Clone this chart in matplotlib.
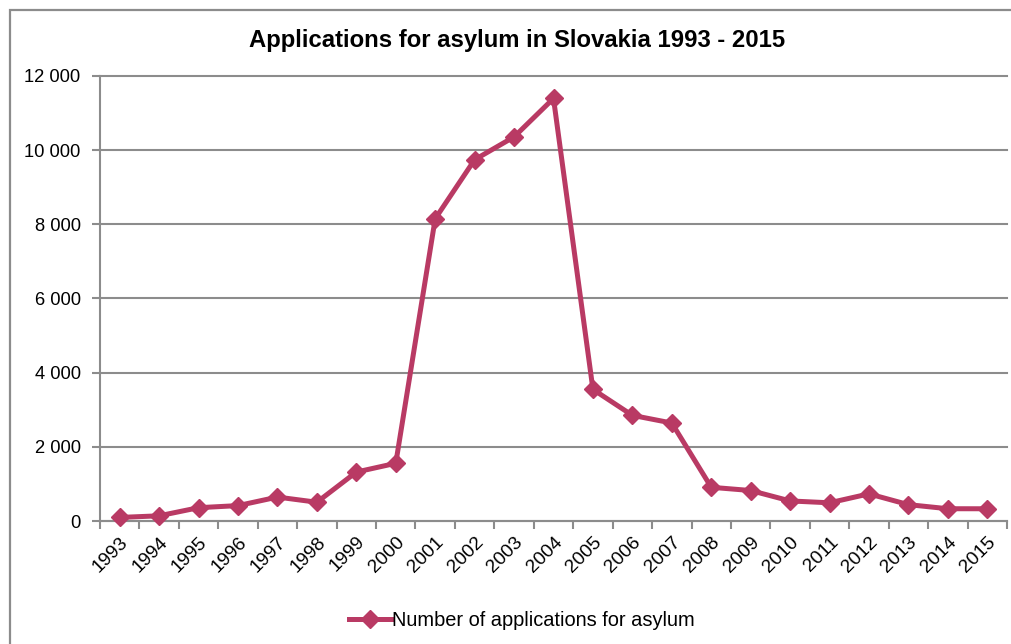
import numpy as np
import matplotlib
matplotlib.use("Agg")
import matplotlib.pyplot as plt
from matplotlib.patches import Rectangle
from matplotlib.ticker import FuncFormatter, FixedLocator

years = [str(y) for y in range(1993, 2016)]
applications = [96, 140, 359, 415, 645, 506, 1320, 1556, 8151, 9743, 10358, 11395,
                3549, 2849, 2642, 909, 822, 541, 491, 732, 441, 331, 330]

plt.rcParams['font.family'] = ['Liberation Sans', 'DejaVu Sans']

line_color = '#B93A64'
grid_color = '#8C8C8C'

fig = plt.figure(figsize=(10.12, 6.44), dpi=100)
ax = fig.add_axes([100 / 1012, 1 - 521 / 644, 907 / 1012, (521 - 76) / 644])

# outer chart frame
fig.patches.append(Rectangle((10 / 1012, -0.1), 1.2, 1 - 10 / 644 + 0.1,
                             transform=fig.transFigure, fill=False,
                             edgecolor=grid_color, linewidth=1.6, zorder=0))

x = np.arange(len(years))
ax.plot(x, applications, color=line_color, linewidth=3.6, marker='D',
        markersize=9, markerfacecolor=line_color, markeredgecolor=line_color,
        label='Number of applications for asylum', zorder=3, clip_on=False)

ax.set_xlim(-0.5, len(years) - 0.5)
ax.set_ylim(0, 12000)
ax.set_yticks(np.arange(0, 12001, 2000))
ax.yaxis.set_major_formatter(FuncFormatter(lambda v, p: f"{int(v):,}".replace(',', ' ')))
ax.grid(axis='y', color=grid_color, linewidth=1.5)
for gl in ax.get_ygridlines():
    gl.set_clip_on(False)
ax.set_axisbelow(True)

ax.set_xticks(x)
ax.set_xticklabels(years, rotation=45, ha='right', rotation_mode='anchor')
ax.xaxis.set_minor_locator(FixedLocator(np.arange(-0.5, len(years), 1)))
ax.tick_params(axis='x', which='major', length=0, pad=9, labelsize=13.8)
ax.tick_params(axis='x', which='minor', length=6, width=1.5, color=grid_color)
ax.tick_params(axis='y', length=6, width=1.5, color=grid_color, labelsize=13.2, pad=8)

for side in ['top', 'right']:
    ax.spines[side].set_visible(False)
ax.spines['left'].set_color(grid_color)
ax.spines['left'].set_linewidth(1.5)
ax.spines['bottom'].set_color(grid_color)
ax.spines['bottom'].set_linewidth(1.5)

fig.text(517 / 1012, 1 - 41 / 644, 'Applications for asylum in Slovakia 1993 - 2015',
         ha='center', va='center', fontsize=17.2, fontweight='bold')

fig.legend(loc='center', bbox_to_anchor=(522 / 1012, 1 - 620 / 644), frameon=False,
           fontsize=14.4, handlelength=2.1, handletextpad=0.05)

fig.savefig('out.png', dpi=100)
